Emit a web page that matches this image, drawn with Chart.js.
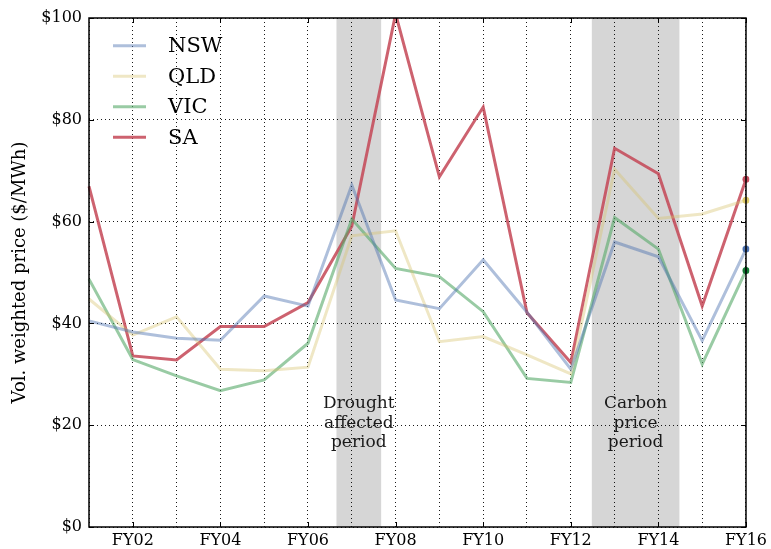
<!DOCTYPE html>
<html>
<head>
<meta charset="utf-8">
<script src="https://cdn.jsdelivr.net/npm/chart.js@4"></script>
<style>
  html, body { margin: 0; padding: 0; background: #fff; }
  #wrap { width: 771px; height: 549px; }
</style>
</head>
<body>
<div id="wrap"><canvas id="priceChart" width="771" height="549"></canvas></div>
<script>
// financial years along the x axis
const categories = ['FY01', 'FY02', 'FY03', 'FY04', 'FY05', 'FY06', 'FY07', 'FY08',
                    'FY09', 'FY10', 'FY11', 'FY12', 'FY13', 'FY14', 'FY15', 'FY16'];

// volume weighted price, $/MWh
const nswPrice = [40.5, 38.3, 37.1, 36.7, 45.4, 43.4, 67.2, 44.6, 42.9, 52.5, 42.2, 31.0, 56.0, 53.1, 36.6, 54.6];
const qldPrice = [44.8, 37.7, 41.3, 31.0, 30.7, 31.4, 57.2, 58.2, 36.4, 37.4, 33.8, 30.1, 70.3, 60.6, 61.5, 64.2];
const vicPrice = [48.7, 32.9, 29.7, 26.8, 28.9, 36.1, 60.5, 50.8, 49.2, 42.3, 29.2, 28.4, 60.8, 54.6, 32.0, 50.4];
const saPrice  = [66.9, 33.6, 32.8, 39.4, 39.4, 44.1, 59.1, 100.8, 68.8, 82.5, 42.1, 32.3, 74.4, 69.4, 43.4, 68.3];

const yTicks = [0, 20, 40, 60, 80, 100];
const labelledYears = ['FY02', 'FY04', 'FY06', 'FY08', 'FY10', 'FY12', 'FY14', 'FY16'];

// shaded periods, in category index units
const periodStart = [5.65, 11.48];
const periodEnd   = [6.67, 13.48];
const periodText  = [['Drought', 'affected', 'period'], ['Carbon', 'price', 'period']];

const serif = "'DejaVu Serif', 'Liberation Serif', serif";
const lastIdx = categories.length - 1;

function series(label, data, line, dot) {
    return {
        label: label,
        data: data,
        borderColor: line,
        backgroundColor: line,
        borderWidth: 3,
        tension: 0,
        fill: false,
        pointRadius: (c) => c.dataIndex === lastIdx ? 3.5 : 0,
        pointHoverRadius: 0,
        pointBorderWidth: 0,
        pointBackgroundColor: dot
    };
}

const shadePlugin = {
    id: 'shade',
    beforeDraw(chart) {
        const { ctx, chartArea, scales } = chart;
        ctx.save();
        ctx.fillStyle = '#d6d6d6';
        periodStart.forEach((s, i) => {
            const x0 = scales.x.getPixelForValue(s);
            const x1 = scales.x.getPixelForValue(periodEnd[i]);
            ctx.fillRect(x0, chartArea.top, x1 - x0, chartArea.bottom - chartArea.top);
        });
        ctx.restore();
    },
    afterDatasetsDraw(chart) {
        const { ctx, chartArea, scales } = chart;
        ctx.save();
        // period notes
        ctx.font = '17px ' + serif;
        ctx.fillStyle = '#1a1a1a';
        ctx.textAlign = 'center';
        ctx.textBaseline = 'middle';
        periodStart.forEach((s, i) => {
            const cx = (scales.x.getPixelForValue(s) + scales.x.getPixelForValue(periodEnd[i])) / 2;
            const y0 = scales.y.getPixelForValue(24.2);
            periodText[i].forEach((t, j) => ctx.fillText(t, cx, y0 + j * 19.5));
        });

        // axes box and inward ticks
        ctx.strokeStyle = '#000';
        ctx.lineWidth = 1.5;
        ctx.strokeRect(chartArea.left, chartArea.top, chartArea.right - chartArea.left, chartArea.bottom - chartArea.top);
        ctx.lineWidth = 1;
        ctx.beginPath();
        yTicks.forEach(v => {
            const y = Math.round(scales.y.getPixelForValue(v)) + 0.5;
            ctx.moveTo(chartArea.left, y); ctx.lineTo(chartArea.left + 5, y);
            ctx.moveTo(chartArea.right, y); ctx.lineTo(chartArea.right - 5, y);
        });
        labelledYears.forEach(c => {
            const x = Math.round(scales.x.getPixelForValue(categories.indexOf(c))) + 0.5;
            ctx.moveTo(x, chartArea.bottom); ctx.lineTo(x, chartArea.bottom - 5);
            ctx.moveTo(x, chartArea.top); ctx.lineTo(x, chartArea.top + 5);
        });
        ctx.stroke();

        // legend
        ctx.font = '21px ' + serif;
        ctx.textAlign = 'left';
        ctx.fillStyle = '#000';
        chart.data.datasets.forEach((ds, i) => {
            const y = 45.7 + i * 30.5;
            ctx.strokeStyle = ds.borderColor;
            ctx.lineWidth = 3;
            ctx.beginPath();
            ctx.moveTo(113, y); ctx.lineTo(146, y);
            ctx.stroke();
            ctx.fillText(ds.label, 168, y + 1);
        });
        ctx.restore();
    }
};

const gridStyle = { color: 'rgba(0,0,0,0.9)', lineWidth: 1, drawTicks: false };
const gridBorder = { display: false, dash: [1, 3] };

const ctx = document.getElementById('priceChart').getContext('2d');
new Chart(ctx, {
    type: 'line',
    data: {
        labels: categories,
        datasets: [
            series('NSW', nswPrice, 'rgba(76,114,176,0.45)', '#4c72b0'),
            series('QLD', qldPrice, 'rgba(214,194,110,0.40)', '#e0cc6a'),
            series('VIC', vicPrice, 'rgba(85,168,104,0.60)', '#137a33'),
            series('SA', saPrice, 'rgba(196,70,86,0.85)', '#c44e5e')
        ]
    },
    options: {
        responsive: false,
        animation: false,
        events: [],
        layout: { padding: { left: 0, right: 25, top: 18, bottom: 0 } },
        plugins: {
            legend: { display: false },
            tooltip: { enabled: false }
        },
        scales: {
            x: {
                type: 'category',
                offset: false,
                border: gridBorder,
                grid: gridStyle,
                ticks: {
                    autoSkip: false,
                    maxRotation: 0,
                    padding: 4,
                    color: '#000',
                    font: { family: serif, size: 16 },
                    callback: (v, i) => labelledYears.includes(categories[i]) ? categories[i] : ''
                },
                afterFit: (scale) => { scale.height = 22; }
            },
            y: {
                min: 0,
                max: 100,
                border: gridBorder,
                grid: gridStyle,
                ticks: {
                    stepSize: 20,
                    padding: 7,
                    color: '#000',
                    font: { family: serif, size: 16 },
                    callback: (v) => '$' + v
                },
                title: {
                    display: true,
                    text: 'Vol. weighted price ($/MWh)',
                    color: '#000',
                    font: { family: serif, size: 18 },
                    padding: { top: 10, bottom: 0 }
                },
                afterFit: (scale) => { scale.width = 89; }
            }
        }
    },
    plugins: [shadePlugin]
});
</script>
</body>
</html>
